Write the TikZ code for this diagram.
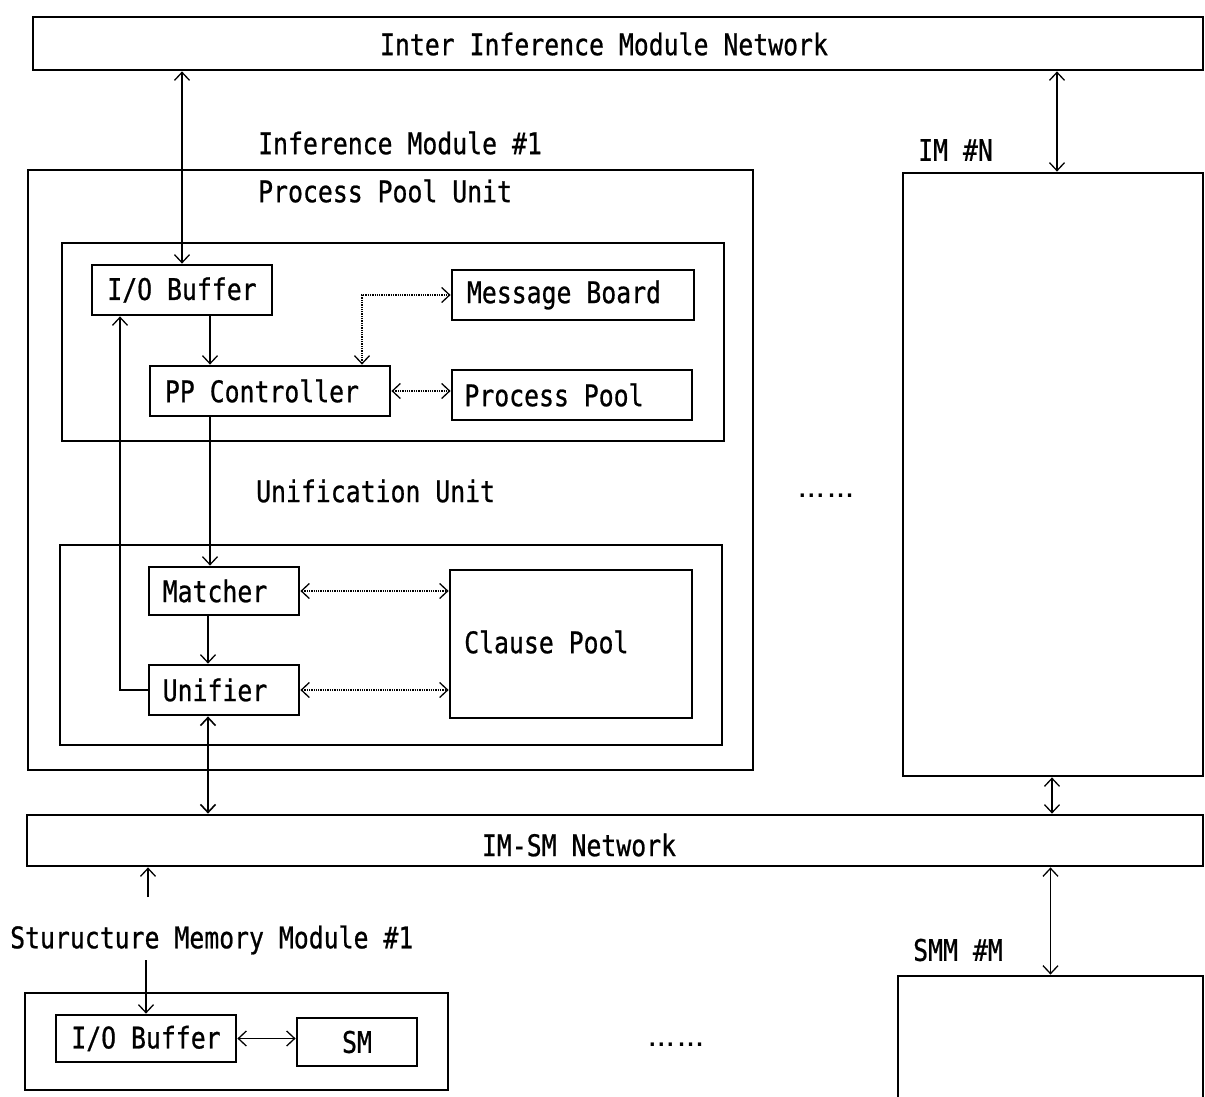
\documentclass[tikz,border=0pt]{standalone}
\usepackage{fontspec}
\newfontfamily\lblfont{DejaVu Sans Mono}[FakeBold=0.8]
\usetikzlibrary{arrows.meta}
\newcommand{\lbl}[1]{\scalebox{1}[1.2]{#1}}
\newcommand{\sixdots}{.\kern-3pt.\kern-3pt.\kern-1pt.\kern-3pt.\kern-3pt.}
\tikzset{
  >={Straight Barb[length=8pt,width=15pt]},
  txt/.style={font=\fontsize{24.8pt}{28pt}\selectfont\lblfont, inner sep=0pt},
  box/.style={draw, line width=2.8pt, inner sep=0pt, font=\fontsize{24.8pt}{28pt}\selectfont\lblfont},
  conn/.style={line width=1.3pt},
  dconn/.style={line width=1.3pt, densely dotted},
  dots/.style={font=\fontsize{20pt}{22pt}\selectfont\ttfamily\bfseries, inner sep=0pt}
}
\setmonofont{DejaVu Sans Mono}
\begin{document}
\begin{tikzpicture}[x=1pt,y=-1pt]
\useasboundingbox (0,0) rectangle (1205,1097);
% networks
\node[box, minimum width=1170, minimum height=53] (iimn) at (618,43.5) {};
\node[txt] (iimnt) at (604,44) {\lbl{Inter Inference Module Network}};
\node[box, minimum width=1176, minimum height=51] (imsm) at (615,840.5) {};
\node[txt] (imsmt) at (579,845) {\lbl{IM-SM Network}};
% inference module 1
\node[box, minimum width=725, minimum height=600] (im1) at (390.5,470) {};
\node[txt, anchor=west] (im1t) at (258,143) {\lbl{Inference Module \#1}};
\node[txt, anchor=west] (ppt) at (258,191) {\lbl{Process Pool Unit}};
\node[box, minimum width=662, minimum height=198] (ppu) at (393,342) {};
\node[box, minimum width=180, minimum height=50] (iob) at (182,290) {\lbl{I/O Buffer}};
\node[box, minimum width=242, minimum height=50] (mb) at (573,295) {\lbl{Message Board}\kern18pt};
\node[box, minimum width=240, minimum height=50] (ppc) at (270,391) {\lbl{PP Controller}\kern16pt};
\node[box, minimum width=240, minimum height=50] (pp) at (572,395) {\lbl{Process Pool}\kern36pt};
\node[txt, anchor=west] (uut) at (256,491) {\lbl{Unification Unit}};
\node[box, minimum width=662, minimum height=200] (uu) at (391,645) {};
\node[box, minimum width=150, minimum height=48] (mat) at (224,591) {\lbl{Matcher}\kern18pt};
\node[box, minimum width=242, minimum height=148] (cp) at (571,644) {};
\node[txt, anchor=west] (cpt) at (464,642) {\lbl{Clause Pool}};
\node[box, minimum width=150, minimum height=50] (uni) at (224,690) {\lbl{Unifier}\kern18pt};
% IM N
\node[box, minimum width=300, minimum height=603] (imN) at (1053,474.5) {};
\node[txt, anchor=west] (imNt) at (918,150) {\lbl{IM \#N}};
\node[dots] (dots1) at (826,496) {\sixdots};
% structure memory
\node[txt, anchor=west] (smmt) at (10,940) {\lbl{Sturucture Memory Module \#1}};
\node[box, minimum width=423, minimum height=97] (smm) at (236.5,1041.5) {};
\node[box, minimum width=180, minimum height=47] (siob) at (146,1038.5) {\lbl{I/O Buffer}};
\node[box, minimum width=120, minimum height=48] (sm) at (357,1042) {\lbl{SM}};
\node[dots] (dots2) at (676,1045) {\sixdots};
\node[box, minimum width=305, minimum height=134] (smmM) at (1050.5,1043) {};
\node[txt, anchor=west] (smmMt) at (913,950) {\lbl{SMM \#M}};
% connectors
\draw[conn,<->] (iob.north) -- (iob.north |- iimn.south);
\draw[conn,<->] ([xshift=4pt]imN.north) -- ([xshift=4pt]imN.north |- iimn.south);
\draw[conn,->] ([xshift=28pt]iob.south) -- ([xshift=28pt]iob.south |- ppc.north);
\draw[dconn,<->] ([xshift=92pt]ppc.north) |- (mb.west);
\draw[dconn,<->] (ppc.east) -- (ppc.east -| pp.west);
\draw[conn,->] ([xshift=-60pt]ppc.south) -- ([xshift=-60pt]ppc.south |- mat.north);
\draw[conn,->] ([xshift=-16pt]mat.south) -- ([xshift=-16pt]uni.north);
\draw[dconn,<->] (mat.east) -- (mat.east -| cp.west);
\draw[dconn,<->] (uni.east) -- (uni.east -| cp.west);
\draw[conn,->] (uni.west) -| ([xshift=-62pt]iob.south);
\draw[conn,line width=1.6pt,<->] ([xshift=-16pt]uni.south) -- ([xshift=-16pt]uni.south |- imsm.north);
\draw[conn,<->] ([xshift=-1pt]imN.south) -- ([xshift=-1pt]imN.south |- imsm.north);
\coordinate (s1) at (148,897);
\draw[conn,->] (s1) -- (s1 |- imsm.south);
\coordinate (s2) at (146,960);
\draw[conn,->] (s2) -- (siob.north);
\draw[conn,<->] (siob.east) -- (siob.east -| sm.west);
\draw[conn,<->] (smmM.north) -- (smmM.north |- imsm.south);
\end{tikzpicture}
\end{document}
